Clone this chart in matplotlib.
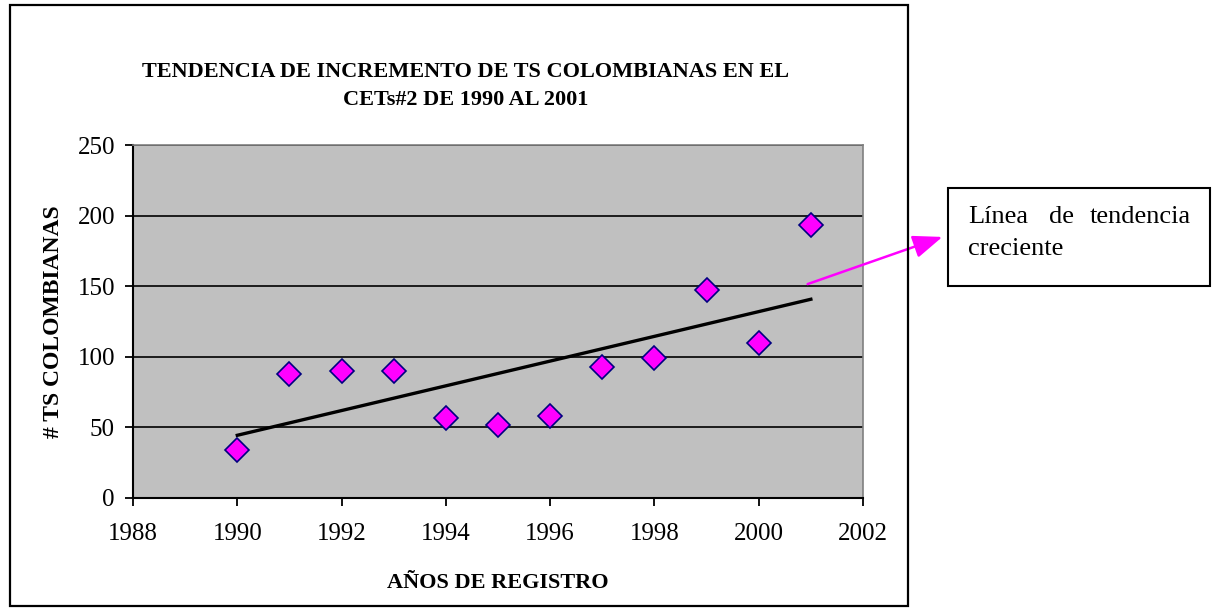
import numpy as np
import matplotlib
matplotlib.use("Agg")
import matplotlib.pyplot as plt
from matplotlib.patches import Rectangle

years = [1990, 1991, 1992, 1993, 1994, 1995, 1996, 1997, 1998, 1999, 2000, 2001]
counts = [34, 88, 90, 90, 57, 52, 58, 93, 99, 147, 110, 193]
x_ticks = [1988, 1990, 1992, 1994, 1996, 1998, 2000, 2002]
y_ticks = [0, 50, 100, 150, 200, 250]

title = "TENDENCIA DE INCREMENTO DE TS COLOMBIANAS EN EL\nCETs#2 DE 1990 AL 2001"
xlabel = "AÑOS DE REGISTRO"
ylabel = "# TS COLOMBIANAS"

plt.rcParams['font.family'] = ['Liberation Serif', 'DejaVu Serif']

W, H = 1218, 610
fig = plt.figure(figsize=(W / 100, H / 100), dpi=100)
fig.patch.set_facecolor('white')

def fx(px):
    return px / W

def fy(py):
    return 1 - py / H

ax = fig.add_axes([fx(133), fy(498), fx(863) - fx(133), fy(145) - fy(498)])
ax.set_facecolor('#C0C0C0')
ax.set_xlim(1988, 2002)
ax.set_ylim(0, 250)
ax.set_xticks(x_ticks)
ax.set_yticks(y_ticks)
ax.yaxis.grid(True, color='black', linewidth=1.2)
ax.set_axisbelow(True)
for s in ['top', 'right']:
    ax.spines[s].set_color('#808080')
    ax.spines[s].set_linewidth(1.2)
for s in ['left', 'bottom']:
    ax.spines[s].set_color('black')
    ax.spines[s].set_linewidth(1.5)
ax.tick_params(axis='both', direction='out', length=6, width=1.3, labelsize=18)
ax.tick_params(axis='y', pad=7)
ax.tick_params(axis='x', pad=12)

# trend line (linear least squares fit)
coef = np.polyfit(years, counts, 1)
tx = np.array([years[0], years[-1]])
ax.plot(tx, np.polyval(coef, tx), color='black', linewidth=2.4, zorder=3)

ax.plot(years, counts, linestyle='none', marker='D', markersize=12.5,
        markerfacecolor='#FF00FF', markeredgecolor='#000080', markeredgewidth=1.2, zorder=4)

ax.set_xlabel(xlabel, fontsize=16, fontweight='bold', labelpad=20)
ax.set_ylabel(ylabel, fontsize=17, fontweight='bold', labelpad=10)

fig.text(fx(466), fy(86), title, ha='center', va='center', fontsize=16,
         fontweight='bold', linespacing=1.55)

# outer chart border
fig.patches.append(Rectangle((fx(10), fy(606)), fx(908) - fx(10), fy(5) - fy(606),
                             transform=fig.transFigure, fill=False,
                             edgecolor='black', linewidth=1.6))

# annotation box
fig.patches.append(Rectangle((fx(948), fy(286)), fx(1210) - fx(948), fy(188) - fy(286),
                             transform=fig.transFigure, fill=False,
                             edgecolor='black', linewidth=1.5))
fig.text(fx(968), fy(217), "Línea", ha='left', va='center', fontsize=19)
fig.text(fx(1061), fy(217), "de", ha='center', va='center', fontsize=19)
fig.text(fx(1191), fy(217), "tendencia", ha='right', va='center', fontsize=19)
fig.text(fx(968), fy(249), "creciente", ha='left', va='center', fontsize=19)

fig.add_artist(matplotlib.patches.FancyArrowPatch(
    (fx(805), fy(285)), (fx(945), fy(236)), transform=fig.transFigure,
    arrowstyle='-|>,head_length=9,head_width=3.5', color='#FF00FF', linewidth=1.8,
    mutation_scale=2))

fig.savefig('out.png', dpi=100)
